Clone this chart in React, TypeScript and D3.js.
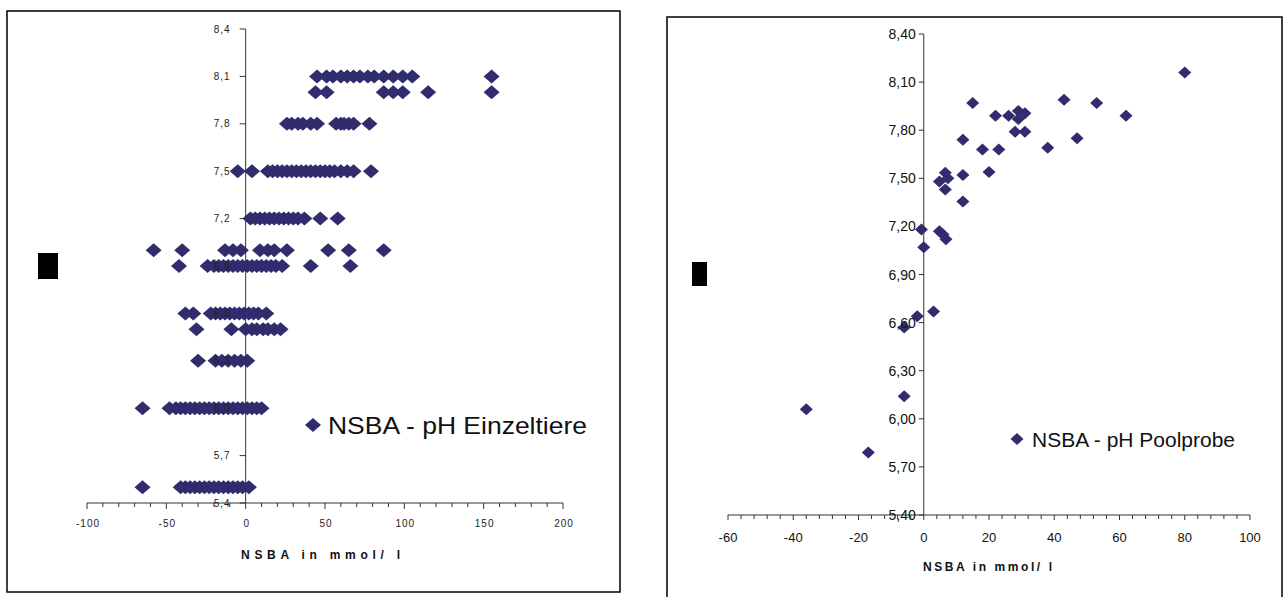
import React from "react";
import * as d3 from "d3";

// ---------- Data: left chart "NSBA - pH Einzeltiere" (pH level rows, NSBA values) ----------
const einzelPH = [8.1, 8.0, 7.8, 7.5, 7.2, 7.0, 6.9, 6.6, 6.5, 6.3, 6.0, 5.5];
const einzelNSBA: number[][] = [
  [45, 51, 55, 60, 64, 68, 72, 77, 81, 87, 93, 99, 105, 155],
  [44, 51, 87, 93, 99, 115, 155],
  [26, 29, 33, 36, 41, 45, 57, 60, 62, 65, 68, 78],
  [-5, 4, 14, 17, 20, 23, 26, 29, 32, 35, 38, 41, 44, 47, 50, 53, 56, 60, 64, 68, 79],
  [3, 6, 9, 12, 15, 18, 21, 24, 27, 30, 33, 37, 47, 58],
  [-58, -40, -13, -8, -3, 9, 14, 18, 26, 52, 65, 87],
  [-42, -24, -20, -17, -14, -11, -8, -5, -2, 1, 4, 7, 10, 13, 16, 19, 23, 41, 66],
  [-38, -33, -22, -19, -16, -13, -10, -7, -4, -1, 2, 5, 8, 13],
  [-31, -9, 0, 4, 7, 11, 14, 18, 22],
  [-30, -19, -15, -11, -7, -3, 1],
  [-65, -48, -44, -41, -38, -35, -32, -29, -26, -23, -20, -17, -14, -11, -8, -5, -2, 1, 4, 7, 10],
  [-65, -41, -38, -35, -32, -29, -26, -23, -20, -17, -14, -11, -8, -5, -2, 2],
];
const leftYTicks = [5.4, 5.7, 6.0, 6.3, 6.6, 6.9, 7.2, 7.5, 7.8, 8.1, 8.4];
const leftXTicks = [-100, -50, 0, 50, 100, 150, 200];

// ---------- Data: right chart "NSBA - pH Poolprobe" ----------
const poolNSBA = [80, 15, 43, 53, 62, 22, 26, 29, 29, 31, 28, 31, 47, 38, 12, 18, 23, 20, 12, 12,
  4.8, 6.6, 7.4, 6.6, -0.7, 4.8, 5.9, 6.8, 0, -2, 3, -6, -6, -36, -17];
const poolPH = [8.16, 7.97, 7.99, 7.97, 7.89, 7.89, 7.89, 7.92, 7.87, 7.905, 7.79, 7.79, 7.75, 7.69, 7.74, 7.68, 7.68, 7.54, 7.52, 7.355,
  7.48, 7.535, 7.50, 7.43, 7.18, 7.17, 7.15, 7.12, 7.07, 6.64, 6.67, 6.57, 6.14, 6.06, 5.79];
const rightYTicks = [5.4, 5.7, 6.0, 6.3, 6.6, 6.9, 7.2, 7.5, 7.8, 8.1, 8.4];
const rightXTicks = [-60, -40, -20, 0, 20, 40, 60, 80, 100];

const leftLegend = "NSBA  - pH Einzeltiere";
const rightLegend = "NSBA - pH Poolprobe";
const xTitle = "NSBA in mmol/ l";

const COLOR = "#302c6e";
const FONT = "'Liberation Sans', Arial, sans-serif";

const diamond = (w: number, h: number) => `M0,${-h}L${w},0L0,${h}L${-w},0Z`;

export default function App() {
  // Left scales
  const xL = d3.scaleLinear().domain([-100, 200]).range([87, 563]);
  const yL = d3.scaleLinear().domain([5.4, 8.4]).range([503, 29]);
  // Right scales
  const xR = d3.scaleLinear().domain([-60, 100]).range([728, 1250]);
  const yR = d3.scaleLinear().domain([5.4, 8.4]).range([515, 34]);

  const leftMinor = d3.range(-100, 201, 10);
  const rightMinor = d3.range(-60, 101, 4);

  const leftPts: [number, number][] = [];
  einzelPH.forEach((ph, i) => einzelNSBA[i].forEach((v) => leftPts.push([v, ph])));

  const dL = diamond(8, 7);
  const dR = diamond(6.5, 6);

  return (
    <svg width={1285} height={597} style={{ position: "absolute", left: 0, top: 0, background: "#fff" }}
      fontFamily={FONT}>
      <rect x={0} y={0} width={1285} height={597} fill="#fff" />
      {/* ---------- Left panel ---------- */}
      <rect x={7} y={11} width={613} height={581} fill="none" stroke="#000" strokeWidth={1.5} />
      <rect x={38} y={253} width={20} height={26} fill="#000" />
      {/* axes */}
      <line x1={xL(0)} x2={xL(0)} y1={yL(8.4)} y2={yL(5.4)} stroke="#333" strokeWidth={1} />
      <line x1={xL(-100)} x2={xL(200)} y1={yL(5.4)} y2={yL(5.4)} stroke="#333" strokeWidth={1} />
      {leftYTicks.map((t) => (
        <line key={"lyt" + t} x1={xL(0) - 6} x2={xL(0)} y1={yL(t)} y2={yL(t)} stroke="#333" />
      ))}
      {leftMinor.map((t) => (
        <line key={"lxm" + t} x1={xL(t)} x2={xL(t)} y1={yL(5.4)} y2={yL(5.4) + (t % 50 === 0 ? 6 : 4)} stroke="#333" />
      ))}
      {leftPts.map(([x, y], i) => (
        <path key={"lp" + i} d={dL} transform={`translate(${xL(x)},${yL(y)})`} fill={COLOR} />
      ))}
      {leftYTicks.map((t) => (
        <text key={"lyl" + t} x={xL(0) - 15} y={yL(t) + 3.5} textAnchor="end" fontSize={10} letterSpacing={1} fill="#222">
          {t.toFixed(1).replace(".", ",")}
        </text>
      ))}
      {leftXTicks.map((t) => (
        <text key={"lxl" + t} x={xL(t) + 1} y={527} textAnchor="middle" fontSize={10} letterSpacing={1} fill="#222">
          {t}
        </text>
      ))}
      <text x={241} y={559} fontSize={12} fontWeight="bold" textLength={159} lengthAdjust="spacing" fill="#111">
        {xTitle}
      </text>
      <path d={dL} transform={`translate(313,425)`} fill={COLOR} />
      <text x={328} y={433.5} fontSize={24} textLength={259} lengthAdjust="spacingAndGlyphs" fill="#111">
        {leftLegend}
      </text>

      {/* ---------- Right panel ---------- */}
      <rect x={667} y={17} width={615} height={600} fill="none" stroke="#000" strokeWidth={1.5} />
      <rect x={692} y={262} width={15} height={24} fill="#000" />
      <line x1={xR(0)} x2={xR(0)} y1={yR(8.4)} y2={yR(5.4)} stroke="#333" strokeWidth={1} />
      <line x1={xR(-60)} x2={xR(100)} y1={yR(5.4)} y2={yR(5.4)} stroke="#333" strokeWidth={1} />
      {rightYTicks.map((t) => (
        <line key={"ryt" + t} x1={xR(0) - 5} x2={xR(0)} y1={yR(t)} y2={yR(t)} stroke="#333" />
      ))}
      {rightMinor.map((t) => (
        <line key={"rxm" + t} x1={xR(t)} x2={xR(t)} y1={yR(5.4)} y2={yR(5.4) + (t % 20 === 0 ? 5 : 4)} stroke="#333" />
      ))}
      {poolNSBA.map((v, i) => (
        <path key={"rp" + i} d={dR} transform={`translate(${xR(v)},${yR(poolPH[i])})`} fill={COLOR} />
      ))}
      {rightYTicks.map((t) => (
        <text key={"ryl" + t} x={xR(0) - 8} y={yR(t) + 5} textAnchor="end" fontSize={14} fill="#111">
          {t.toFixed(2).replace(".", ",")}
        </text>
      ))}
      {rightXTicks.map((t) => (
        <text key={"rxl" + t} x={xR(t)} y={542} textAnchor="middle" fontSize={13} fill="#111">
          {t}
        </text>
      ))}
      <text x={923} y={571} fontSize={12} fontWeight="bold" textLength={129} lengthAdjust="spacing" fill="#111">
        {xTitle}
      </text>
      <path d={dR} transform={`translate(1017,439)`} fill={COLOR} />
      <text x={1032} y={446.5} fontSize={21} textLength={203} lengthAdjust="spacingAndGlyphs" fill="#111">
        {rightLegend}
      </text>
    </svg>
  );
}
